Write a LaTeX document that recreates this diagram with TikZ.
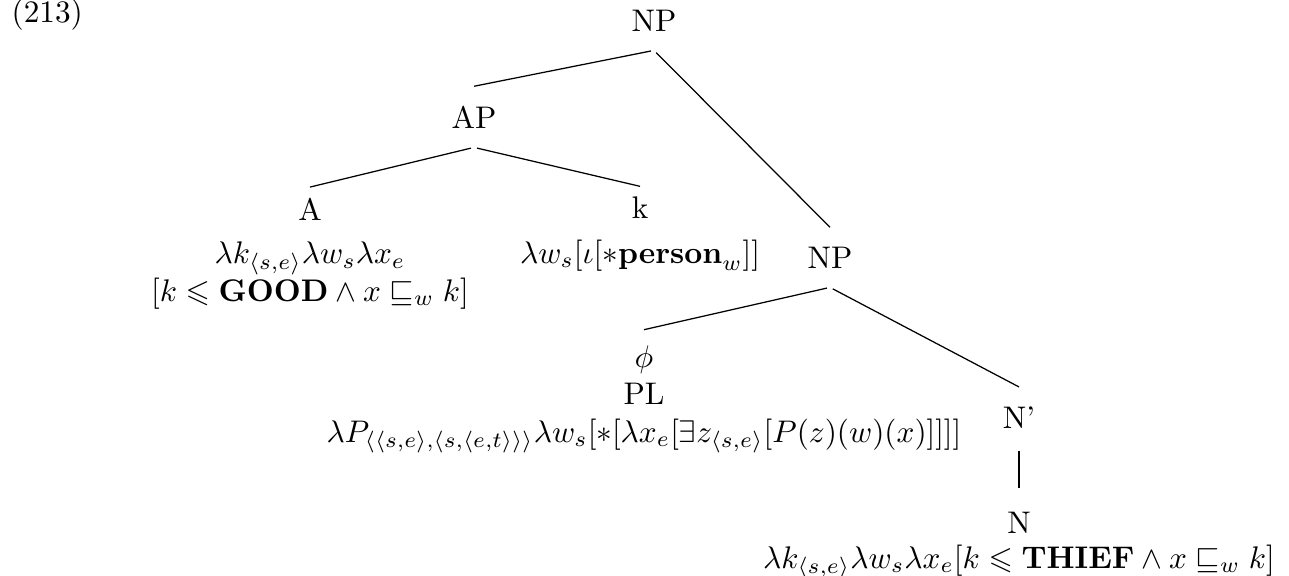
\documentclass[tikz,border=0pt]{standalone}
\usepackage{amssymb}
\begin{document}
\begin{tikzpicture}[x=0.32pt,y=-0.32pt,
  lbl/.style={anchor=base,align=center,inner xsep=0pt,inner ysep=6pt},
  branch/.style={shorten <=1pt}]
\useasboundingbox (0,0) rectangle (1289,575);
\node[anchor=base west,inner sep=0pt] (ex) at (11,22) {(213)};
\node[lbl] (np) at (654,31) {NP};
\node[lbl] (ap) at (474,128) {AP};
% base anchor = baseline of the last line
\node[lbl,inner ysep=3.2pt] (a) at (310,301) {A\\[1.9pt] $\lambda k_{\langle s,e\rangle}\lambda w_s\lambda x_e$\\
  $[k\leqslant\mathbf{GOOD}\wedge x\sqsubseteq_w k]$};
\node[lbl,inner ysep=3.2pt] (k) at (640,263) {k\\[2.2pt] $\lambda w_s[\iota[\ast\mathbf{person}_w]]$};
\node[lbl] (np2) at (830,268) {NP};
\node[lbl,inner ysep=4.8pt] (pl) at (644,442) {$\phi$\\ PL\\
  $\lambda P_{\langle\langle s,e\rangle,\langle s,\langle e,t\rangle\rangle\rangle}\lambda w_s[\ast[\lambda x_e[\exists z_{\langle s,e\rangle}[P(z)(w)(x)]]]]$};
\node[lbl] (nbar) at (1019,428) {N'};
\node[lbl,inner ysep=7.5pt] (n) at (1019,568) {N\\[-1pt]
  $\lambda k_{\langle s,e\rangle}\lambda w_s\lambda x_e[k\leqslant\mathbf{THIEF}\wedge x\sqsubseteq_w k]$};
% branches
\draw[branch] (np.south) -- (ap.north);
\draw[branch] (np.south) -- (np2.north);
\draw[branch] (ap.south) -- (a.north);
\draw[branch] (ap.south) -- (k.north);
\draw[branch] (np2.south) -- (pl.north);
\draw[branch] (np2.south) -- (nbar.north);
\draw[branch] (nbar.south) -- (n.north);
\end{tikzpicture}
\end{document}
